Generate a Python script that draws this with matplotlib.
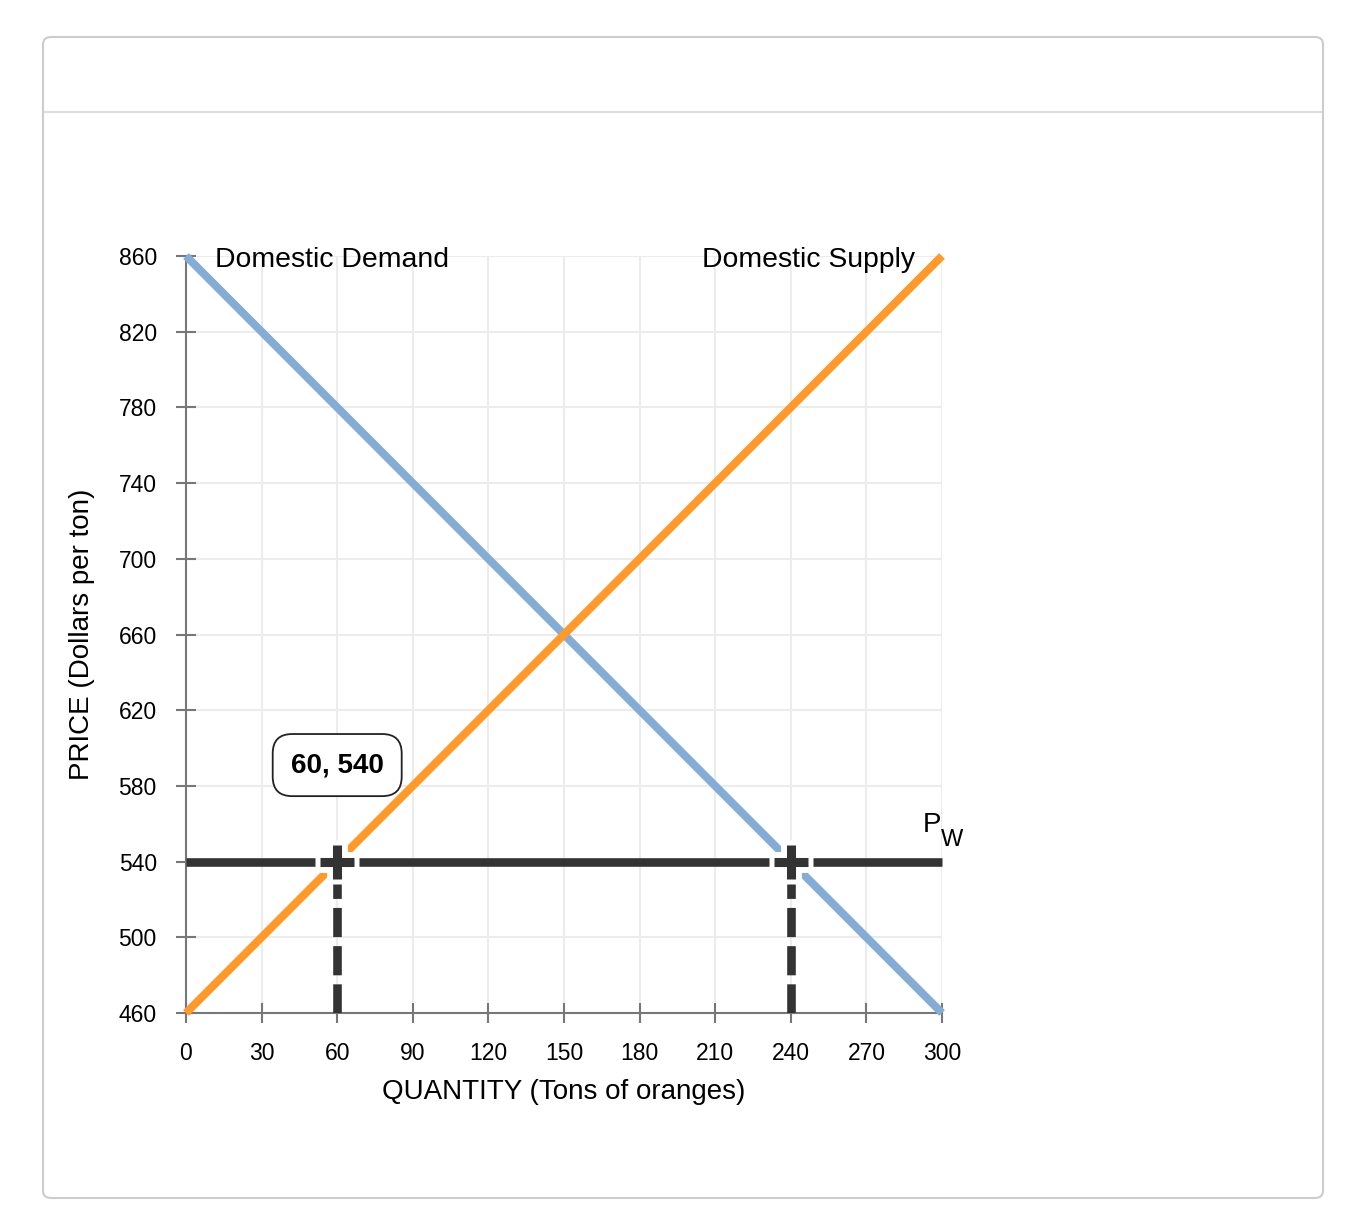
import matplotlib
matplotlib.use("Agg")
import matplotlib.pyplot as plt
from matplotlib.patches import FancyBboxPatch
from matplotlib.lines import Line2D

plt.rcParams['font.family'] = ['Liberation Sans', 'DejaVu Sans']
plt.rcParams['lines.scale_dashes'] = False

# data
quantity = [0, 300]
demand_price = [860, 460]
supply_price = [460, 860]
world_price = 540
import_points_q = [60, 240]
label_point = (60, 540)
x_ticks = list(range(0, 301, 30))
y_ticks = list(range(460, 861, 40))

blue = '#84acd4'
orange = '#fd9a2b'
dark = '#333333'

fig = plt.figure(figsize=(13.5, 12.18), dpi=100)

# card frame
frame = FancyBboxPatch((43 / 1350, 1 - 1198 / 1218), 1280 / 1350, 1161 / 1218,
                       boxstyle="round,pad=0,rounding_size=0.006",
                       transform=fig.transFigure, facecolor='none',
                       edgecolor='#cccccc', linewidth=1.5, zorder=-10)
fig.patches.append(frame)
fig.lines.append(Line2D([44 / 1350, 1322 / 1350], [1 - 112 / 1218] * 2,
                        transform=fig.transFigure, color='#dddddd', linewidth=1.5,
                        zorder=-10))

ax = fig.add_axes([186 / 1350, 1 - 1013 / 1218, 756 / 1350, 757 / 1218])
ax.set_facecolor('none')
ax.set_xlim(0, 300)
ax.set_ylim(460, 860)
ax.set_xticks(x_ticks)
ax.set_yticks(y_ticks)
ax.grid(True, color='#ececec', linewidth=1.5, zorder=0)
ax.set_axisbelow(True)
for s in ['top', 'right']:
    ax.spines[s].set_visible(False)
for s in ['left', 'bottom']:
    ax.spines[s].set_color('#777777')
    ax.spines[s].set_linewidth(1.5)
ax.tick_params(direction='inout', length=14, width=1.5, color='#777777',
               labelsize=16.5, labelcolor='black')
ax.tick_params(axis='y', pad=14)
ax.tick_params(axis='x', pad=14)

ax.plot(quantity, demand_price, color=blue, linewidth=5.8, solid_capstyle='butt',
        clip_on=False, zorder=3)
ax.plot(quantity, supply_price, color=orange, linewidth=5.8, solid_capstyle='butt',
        clip_on=False, zorder=3)

ax.plot(quantity, [world_price, world_price], color=dark, linewidth=6.2,
        solid_capstyle='butt', clip_on=False, zorder=4)
for q in import_points_q:
    ax.plot([q, q], [460, world_price], color=dark, linewidth=6.2,
            linestyle=(0, (21, 6.5)), dash_capstyle='butt', zorder=4)
    ax.plot([q], [world_price], marker='+', markersize=32, markeredgewidth=15,
            color='white', zorder=5, clip_on=False)
    ax.plot([q], [world_price], marker='+', markersize=24, markeredgewidth=6.5,
            color=dark, zorder=6, clip_on=False)

ax.text(label_point[0], 591, '%d, %d' % label_point, fontsize=20, fontweight='bold',
        ha='center', va='center', zorder=7,
        bbox=dict(boxstyle='round,pad=0.65,rounding_size=0.7', facecolor='white',
                  edgecolor='#222222', linewidth=1.3))

ax.text(11.5, 858, 'Domestic Demand', fontsize=20.4, ha='left', va='center')
ax.text(289.3, 858, 'Domestic Supply', fontsize=20.4, ha='right', va='center')
ax.text(292.5, 555.6, 'P', fontsize=20, ha='left', va='baseline')
ax.text(299.6, 548.2, 'W', fontsize=17, ha='left', va='baseline')

ax.set_xlabel('QUANTITY (Tons of oranges)', fontsize=20, labelpad=10)
ax.set_ylabel('PRICE (Dollars per ton)', fontsize=20, labelpad=17)

fig.savefig('out.png', dpi=100)
